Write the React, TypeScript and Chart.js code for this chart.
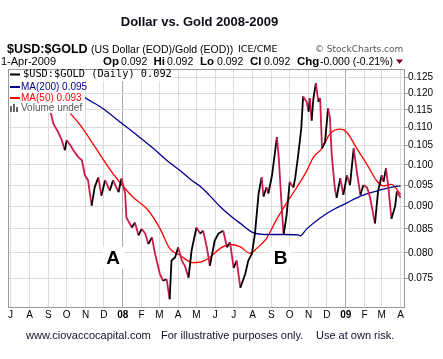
import React, { useEffect, useRef } from 'react';
import { Chart, registerables } from 'chart.js';

Chart.register(...registerables);

// x values are calendar days counted from 1-Jul-2007
const MONTH_STARTS = [0, 31, 62, 92, 123, 153, 184, 215, 244, 275, 305, 336, 366, 397, 428, 458, 489, 519, 550, 581, 609, 640];
const MONTH_LABELS = ['J', 'A', 'S', 'O', 'N', 'D', '08', 'F', 'M', 'A', 'M', 'J', 'J', 'A', 'S', 'O', 'N', 'D', '09', 'F', 'M', 'A'];
const YEAR_TICK_INDEXES = [6, 18];
const Y_TICKS = [0.075, 0.08, 0.085, 0.09, 0.095, 0.1, 0.105, 0.11, 0.115, 0.12, 0.125];
const X_MIN = -4.3;
const X_MAX = 645.6;
const Y_MIN = 0.0697;
const Y_MAX = 0.1276;

const PRICE_DAYS = [0, 15, 30, 45, 58, 65, 70, 78, 84, 89, 92, 98, 103, 111, 117, 122, 127, 133, 138, 144, 149, 155, 163, 168, 177, 182, 188, 190, 199, 204, 210, 215, 221, 226, 232, 237, 245, 250, 256, 261, 264, 270, 275, 281, 286, 292, 297, 305, 311, 316, 322, 327, 335, 341, 349, 355, 360, 366, 371, 377, 385, 390, 396, 401, 407, 412, 415, 420, 423, 429, 437, 440, 445, 448, 453, 458, 464, 467, 472, 477, 480, 486, 489, 491, 494, 497, 501, 505, 508, 511, 516, 521, 524, 527, 532, 535, 541, 546, 552, 557, 563, 568, 574, 579, 585, 590, 598, 603, 609, 612, 616, 620, 625, 631, 634, 640];
const PRICE_VALUES = [0.1225, 0.1215, 0.123, 0.122, 0.1175, 0.1149, 0.1111, 0.1087, 0.1065, 0.1038, 0.1065, 0.1051, 0.1038, 0.102, 0.1012, 0.0974, 0.0962, 0.0902, 0.0945, 0.0969, 0.0925, 0.0962, 0.0937, 0.0962, 0.0933, 0.0966, 0.093, 0.0875, 0.0853, 0.0864, 0.0836, 0.085, 0.084, 0.0818, 0.0832, 0.0798, 0.0758, 0.0745, 0.0748, 0.0711, 0.0784, 0.0791, 0.0811, 0.0784, 0.0774, 0.0751, 0.0805, 0.0853, 0.084, 0.0846, 0.0811, 0.0774, 0.0825, 0.084, 0.0846, 0.0811, 0.0822, 0.077, 0.0784, 0.0732, 0.0758, 0.0784, 0.0798, 0.084, 0.093, 0.0969, 0.0923, 0.0945, 0.093, 0.0974, 0.1073, 0.102, 0.0896, 0.0837, 0.0881, 0.0958, 0.0944, 0.0967, 0.1026, 0.1097, 0.119, 0.1174, 0.1145, 0.1185, 0.1119, 0.1185, 0.1231, 0.1174, 0.1185, 0.1043, 0.106, 0.1155, 0.1128, 0.1026, 0.0944, 0.092, 0.0967, 0.0927, 0.0974, 0.095, 0.1043, 0.0985, 0.0927, 0.095, 0.0944, 0.092, 0.0862, 0.0935, 0.0974, 0.0958, 0.0992, 0.0944, 0.0872, 0.09, 0.0935, 0.092];

const MA50_DAYS = [98, 114, 130, 147, 168, 179, 201, 224, 245, 261, 278, 299, 311, 327, 344, 360, 377, 393, 404, 420, 437, 453, 469, 486, 497, 511, 524, 541, 552, 568, 585, 601, 612, 625, 640];
const MA50_VALUES = [0.114, 0.1107, 0.1068, 0.1026, 0.0978, 0.0957, 0.0921, 0.0894, 0.0851, 0.0809, 0.0795, 0.078, 0.0781, 0.0791, 0.0809, 0.0817, 0.0812, 0.0799, 0.0809, 0.083, 0.0872, 0.0908, 0.0943, 0.0985, 0.102, 0.1043, 0.1082, 0.1095, 0.1086, 0.1043, 0.1001, 0.096, 0.0948, 0.0952, 0.0928];

const MA200_DAYS = [-5, 58, 117, 149, 185, 210, 234, 256, 278, 296, 311, 332, 344, 366, 377, 398, 420, 448, 472, 475, 486, 508, 530, 552, 574, 606, 628, 640];
const MA200_VALUES = [0.137, 0.129, 0.1193, 0.1157, 0.1108, 0.1075, 0.1043, 0.1012, 0.0986, 0.0963, 0.0947, 0.0917, 0.0899, 0.0873, 0.0862, 0.0842, 0.0838, 0.0838, 0.0837, 0.0835, 0.085, 0.0874, 0.0893, 0.0908, 0.0924, 0.0938, 0.0946, 0.0948];

const ANNOTATIONS = [
  { label: 'A', day: 168, value: 0.079 },
  { label: 'B', day: 443, value: 0.079 },
];

const SANS = '"Liberation Sans", Arial, Helvetica, sans-serif';
const VERD = '"DejaVu Sans", Verdana, sans-serif';
const MONO = '"DejaVu Sans Mono", monospace';

function txt(ctx: CanvasRenderingContext2D, s: string, x: number, y: number, font: string, color: string, align: CanvasTextAlign = 'left') {
  ctx.font = font;
  ctx.fillStyle = color;
  ctx.textAlign = align;
  ctx.textBaseline = 'middle';
  ctx.fillText(s, x, y);
}

const overlay = {
  id: 'overlay',
  afterDraw(chart: any) {
    const ctx: CanvasRenderingContext2D = chart.ctx;
    const a = chart.chartArea;
    const xs = chart.scales.x;
    const ys = chart.scales.y;
    ctx.save();

    // legend backgrounds
    ctx.fillStyle = '#fff';
    ctx.fillRect(a.left, a.top, 165, 12);
    ctx.fillRect(a.left, a.top + 12, 77, 32);

    // annotation boxes and letters
    for (const an of ANNOTATIONS) {
      const px = xs.getPixelForValue(an.day);
      const py = ys.getPixelForValue(an.value);
      ctx.fillStyle = '#fff';
      ctx.fillRect(px - 10.5, py - 11, 21, 22);
      txt(ctx, an.label, px, py + 1, `bold 19px ${SANS}`, '#000', 'center');
    }

    // plot border
    ctx.strokeStyle = '#9a9a9a';
    ctx.lineWidth = 1;
    ctx.strokeRect(Math.round(a.left) + 0.5, Math.round(a.top) + 0.5, Math.round(a.right - a.left), Math.round(a.bottom - a.top));

    // legend
    ctx.fillStyle = '#000';
    ctx.fillRect(10, 73.5, 10, 2);
    txt(ctx, '$USD:$GOLD (Daily) 0.092', 23, 74.5, `10.3px ${MONO}`, '#000');
    ctx.fillStyle = '#00008f';
    ctx.fillRect(10, 86, 10, 2);
    txt(ctx, 'MA(200) 0.095', 21, 87, `10px ${SANS}`, '#00008f');
    ctx.fillStyle = '#ff0000';
    ctx.fillRect(10, 97, 10, 2);
    txt(ctx, 'MA(50) 0.093', 21, 98, `10px ${SANS}`, '#ff0000');
    ctx.fillStyle = '#666';
    ctx.fillRect(10, 106, 2, 6);
    ctx.fillRect(13, 104, 2, 8);
    ctx.fillRect(16, 107, 2, 5);
    txt(ctx, 'Volume undef', 21, 108.5, `10px ${SANS}`, '#555');

    // header
    txt(ctx, 'Dollar vs. Gold 2008-2009', 199.5, 22.5, `bold 13px ${SANS}`, '#0d0d1a', 'center');
    txt(ctx, '$USD:$GOLD', 7, 49.5, `bold 12.5px ${SANS}`, '#000');
    txt(ctx, '(US Dollar (EOD)/Gold (EOD))', 91, 50, `10.5px ${SANS}`, '#000');
    txt(ctx, 'ICE/CME', 238, 50, `9.5px ${VERD}`, '#000');
    txt(ctx, '\u00A9 StockCharts.com', 315, 50, `9px ${VERD}`, '#555');

    const ly = 62;
    txt(ctx, '1-Apr-2009', 1, ly, `11px ${SANS}`, '#000');
    const pairs: [string, number, string, number][] = [
      ['Op', 103, '0.092', 121],
      ['Hi', 153.5, '0.092', 167],
      ['Lo', 200, '0.092', 217],
      ['Cl', 250, '0.092', 264],
      ['Chg', 297, '-0.000 (-0.21%)', 320],
    ];
    for (const [lab, lx, val, vx] of pairs) {
      txt(ctx, lab, lx, ly, `bold 11.5px ${SANS}`, '#000');
      txt(ctx, val, vx, ly, `10.5px ${SANS}`, '#000');
    }
    ctx.fillStyle = '#800020';
    ctx.beginPath();
    ctx.moveTo(396, 59.5);
    ctx.lineTo(403, 59.5);
    ctx.lineTo(399.5, 64);
    ctx.closePath();
    ctx.fill();

    // footer
    const fy = 336;
    const ff = `11px ${SANS}`;
    txt(ctx, 'www.ciovaccocapital.com', 26, fy, ff, '#101030');
    txt(ctx, 'For illustrative purposes only.', 161, fy, ff, '#101030');
    txt(ctx, 'Use at own risk.', 316, fy, ff, '#101030');

    ctx.restore();
  },
};

export default function App() {
  const ref = useRef<HTMLCanvasElement | null>(null);

  useEffect(() => {
    if (!ref.current) return;
    const isYear = (i: number) => YEAR_TICK_INDEXES.includes(i);
    const chart = new Chart(ref.current, {
      type: 'line',
      data: {
        datasets: [
          {
            data: PRICE_DAYS.map((d, i) => ({ x: d, y: PRICE_VALUES[i] })),
            borderColor: '#000',
            borderWidth: 1.8,
            pointRadius: 0,
            tension: 0,
            clip: 0,
            segment: {
              borderColor: (c: any) => (c.p1.parsed.y >= c.p0.parsed.y ? '#000000' : '#cc1a4a'),
            },
          } as any,
          {
            data: MA200_DAYS.map((d, i) => ({ x: d, y: MA200_VALUES[i] })),
            borderColor: '#00008f',
            borderWidth: 1.3,
            pointRadius: 0,
            tension: 0.4,
            cubicInterpolationMode: 'monotone',
            clip: 0,
          } as any,
          {
            data: MA50_DAYS.map((d, i) => ({ x: d, y: MA50_VALUES[i] })),
            borderColor: '#ff0000',
            borderWidth: 1.3,
            pointRadius: 0,
            tension: 0.4,
            cubicInterpolationMode: 'monotone',
            clip: 0,
          } as any,
        ],
      },
      options: {
        animation: false,
        responsive: false,
        events: [],
        layout: { padding: { left: 8, top: 69, right: 0, bottom: 0 } },
        plugins: {
          legend: { display: false },
          title: { display: false },
          tooltip: { enabled: false },
        },
        scales: {
          x: {
            type: 'linear',
            position: 'bottom',
            min: X_MIN,
            max: X_MAX,
            bounds: 'data',
            afterBuildTicks: (s: any) => {
              s.ticks = MONTH_STARTS.map((v) => ({ value: v }));
            },
            afterFit: (s: any) => {
              s.height = 52;
            },
            ticks: {
              autoSkip: false,
              maxRotation: 0,
              minRotation: 0,
              padding: 2,
              color: '#000',
              font: (c: any) => ({ family: SANS, size: 10, weight: isYear(c.index) ? 'bold' : 'normal' }),
              callback: (_v: any, i: number) => MONTH_LABELS[i],
            },
            grid: {
              drawTicks: false,
              color: (c: any) => (isYear(c.index) ? '#a8a8a8' : '#dcdcdc'),
              lineWidth: 1,
            },
            border: { display: false },
          } as any,
          y: {
            type: 'logarithmic',
            position: 'right',
            min: Y_MIN,
            max: Y_MAX,
            bounds: 'data',
            afterBuildTicks: (s: any) => {
              s.ticks = Y_TICKS.map((v) => ({ value: v }));
            },
            afterFit: (s: any) => {
              s.width = 39;
            },
            ticks: {
              padding: 0,
              color: '#000',
              font: { family: SANS, size: 10 },
              callback: (v: any) => Number(v).toFixed(3),
            },
            grid: { color: '#dcdcdc', tickLength: 4, tickColor: '#9a9a9a' },
            border: { display: false },
          } as any,
        },
      },
      plugins: [overlay],
    });
    return () => chart.destroy();
  }, []);

  return (
    <div style={{ position: 'absolute', left: 0, top: 0, width: 443, height: 359, background: '#fff' }}>
      <canvas ref={ref} width={443} height={359} style={{ width: 443, height: 359, display: 'block' }} />
    </div>
  );
}
